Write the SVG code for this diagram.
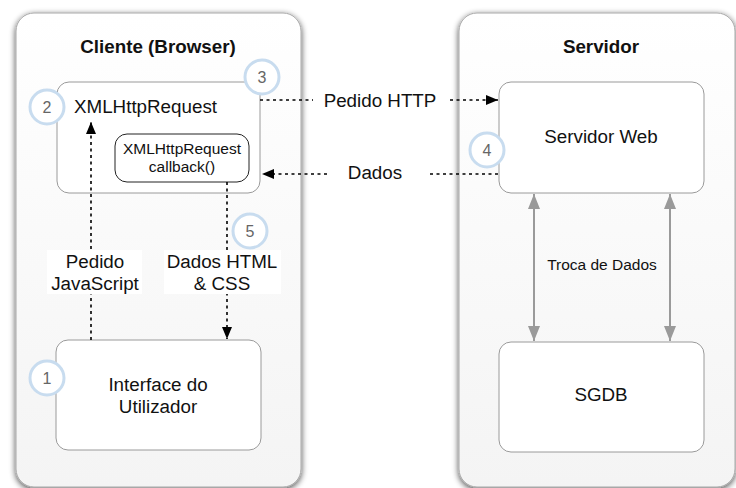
<svg xmlns="http://www.w3.org/2000/svg" width="736" height="488" viewBox="0 0 736 488">
  <defs>
    <linearGradient id="panelFill" x1="0" y1="0" x2="0" y2="1">
      <stop offset="0" stop-color="#ffffff"/>
      <stop offset="1" stop-color="#f4f4f4"/>
    </linearGradient>
    <filter id="panelShadow" x="-10%" y="-10%" width="120%" height="120%">
      <feGaussianBlur in="SourceAlpha" stdDeviation="3"/>
      <feOffset dx="0" dy="2" result="blur"/>
      <feComponentTransfer>
        <feFuncA type="linear" slope="0.7"/>
      </feComponentTransfer>
      <feMerge>
        <feMergeNode/>
        <feMergeNode in="SourceGraphic"/>
      </feMerge>
    </filter>
    <marker id="arrowBlack" markerUnits="userSpaceOnUse" markerWidth="13" markerHeight="11" refX="12" refY="5" orient="auto">
      <path d="M0,0 L12,5 L0,10 Z" fill="#000"/>
    </marker>
    <marker id="arrowGray" markerUnits="userSpaceOnUse" markerWidth="16" markerHeight="13" refX="15" refY="6" orient="auto-start-reverse">
      <path d="M0,0 L15,6 L0,12 Z" fill="#9a9a9a"/>
    </marker>
    <style>
      .panel { fill: url(#panelFill); stroke: #a8a8a8; stroke-width: 1; }
      .box { fill: #ffffff; stroke: #9a9a9a; stroke-width: 1; }
      .inner { fill: #ffffff; stroke: #222; stroke-width: 1; }
      .txt { font-family: "Liberation Sans", Arial, Helvetica, sans-serif; font-size: 18.8px; fill: #111; }
      .title { font-weight: bold; }
      .small { font-size: 15.5px; }
      .mid { text-anchor: middle; }
      .dotted { stroke: #000; stroke-width: 1.6; stroke-dasharray: 3 3.5; fill: none; }
      .gray { stroke: #9a9a9a; stroke-width: 2; fill: none; }
      .badge circle { fill: #ffffff; stroke: #c8dcef; stroke-width: 3; }
      .badge text { font-family: "Liberation Sans", Arial, Helvetica, sans-serif; font-size: 16px; fill: #666; text-anchor: middle; }
      .labelbg { fill: #ffffff; }
    </style>
  </defs>

  <!-- Client and server panels -->
  <g id="cliente" filter="url(#panelShadow)">
    <rect class="panel" x="16" y="13" width="285" height="474" rx="18"/>
  </g>
  <text class="txt title mid" x="158" y="53">Cliente (Browser)</text>
  <g id="servidor" filter="url(#panelShadow)">
    <rect class="panel" x="459" y="13" width="276" height="474" rx="18"/>
  </g>
  <text class="txt title mid" x="601" y="53">Servidor</text>

  <!-- Nodes -->
  <g id="xhr">
    <rect class="box" x="57" y="82" width="203" height="111" rx="12"/>
    <text class="txt" x="74" y="113">XMLHttpRequest</text>
  </g>
  <g id="callback">
    <rect class="inner" x="115" y="134" width="134" height="48" rx="12"/>
    <text class="txt small mid" x="182" y="154">XMLHttpRequest</text>
    <text class="txt small mid" x="182" y="172">callback()</text>
  </g>
  <g id="interface">
    <rect class="box" x="56" y="340" width="205" height="110" rx="12"/>
    <text class="txt mid" x="158" y="391">Interface do</text>
    <text class="txt mid" x="158" y="413">Utilizador</text>
  </g>
  <g id="servidor-web">
    <rect class="box" x="499" y="82" width="205" height="111" rx="12"/>
    <text class="txt mid" x="601" y="143">Servidor Web</text>
  </g>
  <g id="sgdb">
    <rect class="box" x="499" y="342" width="205" height="110" rx="12"/>
    <text class="txt mid" x="601" y="401">SGDB</text>
  </g>

  <!-- Connectors -->
  <g id="connectors">
    <!-- Pedido HTTP -->
    <line class="dotted" x1="260" y1="100" x2="313" y2="100"/>
    <line class="dotted" x1="450" y1="100" x2="498" y2="100" marker-end="url(#arrowBlack)"/>
    <text class="txt mid" x="380" y="107">Pedido HTTP</text>
    <!-- Dados -->
    <line class="dotted" x1="498" y1="174" x2="427" y2="174"/>
    <line class="dotted" x1="327" y1="174" x2="262" y2="174" marker-end="url(#arrowBlack)"/>
    <text class="txt mid" x="375" y="179">Dados</text>
    <!-- Pedido JavaScript -->
    <line class="dotted" x1="91" y1="340" x2="91" y2="122" marker-end="url(#arrowBlack)"/>
    <rect class="labelbg" x="47" y="250" width="95" height="44"/>
    <text class="txt mid" x="95" y="268">Pedido</text>
    <text class="txt mid" x="95" y="290">JavaScript</text>
    <!-- Dados HTML & CSS -->
    <line class="dotted" x1="227" y1="182" x2="227" y2="339" marker-end="url(#arrowBlack)"/>
    <rect class="labelbg" x="164" y="250" width="117" height="44"/>
    <text class="txt mid" x="222" y="268">Dados HTML</text>
    <text class="txt mid" x="222" y="290">&amp; CSS</text>
    <!-- Troca de Dados -->
    <line class="gray" x1="534" y1="194" x2="534" y2="341" marker-start="url(#arrowGray)" marker-end="url(#arrowGray)"/>
    <line class="gray" x1="670" y1="194" x2="670" y2="341" marker-start="url(#arrowGray)" marker-end="url(#arrowGray)"/>
    <text class="txt small mid" x="602" y="270">Troca de Dados</text>
  </g>

  <!-- Step badges -->
  <g id="step1" class="badge"><circle cx="47" cy="378" r="17"/><text x="47" y="384">1</text></g>
  <g id="step2" class="badge"><circle cx="47" cy="107" r="17"/><text x="47" y="113">2</text></g>
  <g id="step3" class="badge"><circle cx="262" cy="77" r="17"/><text x="262" y="83">3</text></g>
  <g id="step4" class="badge"><circle cx="487" cy="150" r="17"/><text x="487" y="156">4</text></g>
  <g id="step5" class="badge"><circle cx="250" cy="231" r="17"/><text x="250" y="237">5</text></g>
</svg>
